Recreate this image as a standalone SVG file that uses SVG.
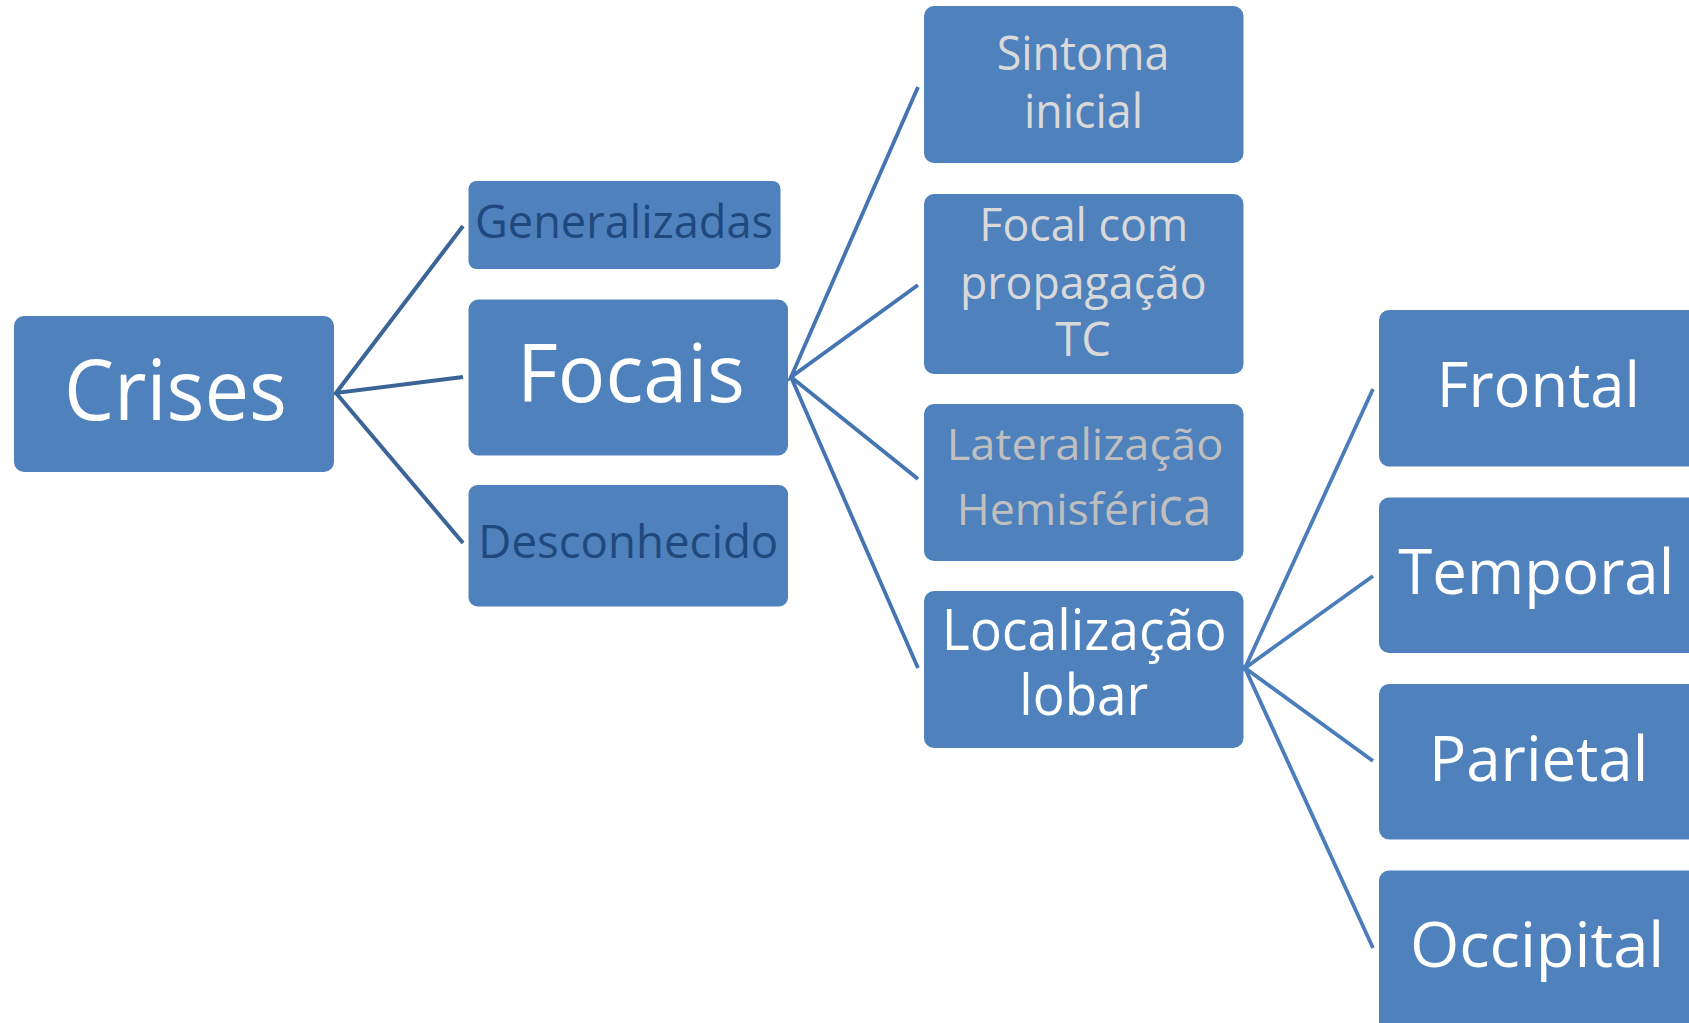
<svg xmlns="http://www.w3.org/2000/svg" width="1689" height="1023" viewBox="0 0 1689 1023">
<style>
.box{fill:#4F81BD;}
.t{font-family:"Open Sans","Noto Sans","Liberation Sans",sans-serif;fill:#FFFFFF;}
.dark{fill:#1F497D;}
.lgrey{fill:#D9D9D9;}
.grey{fill:#BFBFBF;}
.c1{fill:none;stroke:#3A6596;stroke-width:4;stroke-linejoin:miter;}
.c2{fill:none;stroke:#4574B2;stroke-width:3.8;}
.c3{fill:none;stroke:#4A7EBB;stroke-width:3.8;}
</style>
<rect width="1689" height="1023" fill="#FFFFFF"/>
<g id="connectors">
<polyline class="c1" points="463,226 336,393 463,377"/>
<polyline class="c1" points="336,393 463,543"/>
<polyline class="c2" points="918,87 791,377 918,285"/>
<polyline class="c2" points="918,479 791,377 918,668"/>
<polyline class="c3" points="1373,389 1245,668 1373,576"/>
<polyline class="c3" points="1373,761 1245,668 1373,948"/>
</g>
<g id="crises">
<rect class="box" x="14" y="316" width="320" height="156" rx="10"/>
<text class="t" x="64" y="420" font-size="85" textLength="223" lengthAdjust="spacingAndGlyphs">Crises</text>
</g>
<g id="generalizadas">
<rect class="box" x="468.5" y="181" width="312" height="88" rx="8"/>
<text class="t dark" x="475" y="238" font-size="46" textLength="298" lengthAdjust="spacingAndGlyphs">Generalizadas</text>
</g>
<g id="focais">
<rect class="box" x="468.5" y="299.5" width="319.5" height="156" rx="10"/>
<text class="t" x="517" y="402" font-size="81" textLength="228" lengthAdjust="spacingAndGlyphs">Focais</text>
</g>
<g id="desconhecido">
<rect class="box" x="468.5" y="485" width="319.5" height="121.5" rx="9"/>
<text class="t dark" x="478.3" y="558" font-size="45" textLength="300" lengthAdjust="spacingAndGlyphs">Desconhecido</text>
</g>
<g id="sintoma">
<rect class="box" x="924" y="6" width="319.5" height="157" rx="10"/>
<text class="t lgrey" x="996.7" y="70" font-size="47" textLength="172.6" lengthAdjust="spacingAndGlyphs">Sintoma</text>
<text class="t lgrey" x="1024" y="127.7" font-size="47" textLength="119" lengthAdjust="spacingAndGlyphs">inicial</text>
</g>
<g id="focal-com">
<rect class="box" x="924" y="194" width="319.5" height="180" rx="10"/>
<text class="t lgrey" x="979.3" y="240.5" font-size="46" textLength="209" lengthAdjust="spacingAndGlyphs">Focal com</text>
<text class="t lgrey" x="960" y="298.5" font-size="46" textLength="246.7" lengthAdjust="spacingAndGlyphs">propagação</text>
<text class="t lgrey" x="1083" y="356" font-size="47" text-anchor="middle">TC</text>
</g>
<g id="lateralizacao">
<rect class="box" x="924" y="404" width="319.5" height="157" rx="10"/>
<text class="t grey" x="946.7" y="460" font-size="44.5" textLength="276.7" lengthAdjust="spacingAndGlyphs">Lateralização</text>
<text class="t grey" x="956.7" y="525" font-size="44.5" textLength="255" lengthAdjust="spacingAndGlyphs">Hemisféri<tspan font-size="51">ca</tspan></text>
</g>
<g id="localizacao">
<rect class="box" x="924" y="591" width="319.5" height="157" rx="10"/>
<text class="t" x="941.7" y="650" font-size="56" textLength="285" lengthAdjust="spacingAndGlyphs">Localização</text>
<text class="t" x="1019.3" y="715" font-size="56" textLength="129" lengthAdjust="spacingAndGlyphs">lobar</text>
</g>
<g id="frontal">
<rect class="box" x="1379" y="310" width="330" height="156.5" rx="10"/>
<text class="t" x="1436.7" y="407" font-size="63" textLength="203.3" lengthAdjust="spacingAndGlyphs">Frontal</text>
</g>
<g id="temporal">
<rect class="box" x="1379" y="497.5" width="330" height="155.5" rx="10"/>
<text class="t" x="1398.3" y="594" font-size="63" textLength="276" lengthAdjust="spacingAndGlyphs">Temporal</text>
</g>
<g id="parietal">
<rect class="box" x="1379" y="684" width="330" height="155.5" rx="10"/>
<text class="t" x="1429" y="781" font-size="63" textLength="219.3" lengthAdjust="spacingAndGlyphs">Parietal</text>
</g>
<g id="occipital">
<rect class="box" x="1379" y="870.5" width="330" height="170" rx="10"/>
<text class="t" x="1410" y="967" font-size="63" textLength="254.3" lengthAdjust="spacingAndGlyphs">Occipital</text>
</g>
</svg>
